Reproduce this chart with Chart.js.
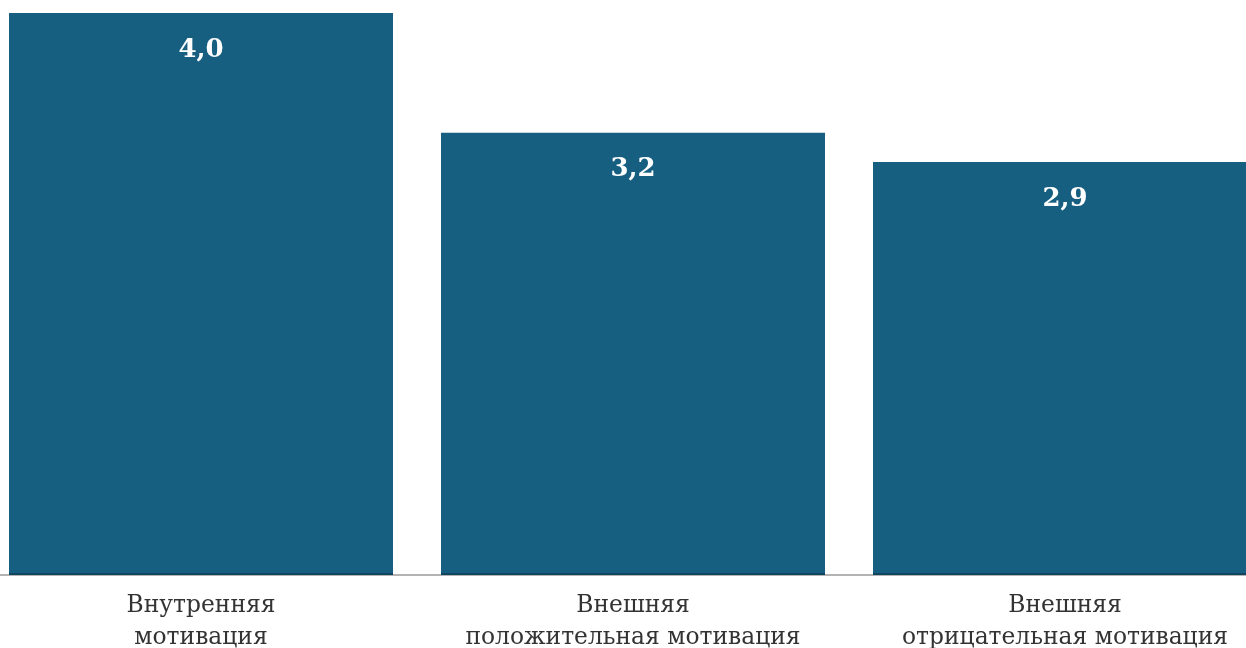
<!DOCTYPE html>
<html>
<head>
<meta charset="utf-8">
<script src="https://cdn.jsdelivr.net/npm/chart.js@4/dist/chart.umd.min.js"></script>
<style>
  body { margin: 0; overflow: hidden; background: #fff; }
  #wrap { position: absolute; left: -15px; top: 0; width: 1296px; height: 648px; }
</style>
</head>
<body>
<div id="wrap"><canvas id="myChart" width="1296" height="648"></canvas></div>
<script>
// Данные диаграммы
const categories = [
    ["Внутренняя", "мотивация"],
    ["Внешняя", "положительная мотивация"],
    ["Внешняя", "отрицательная мотивация"]
];
const values = [4.0, 3.15, 2.94];
const valueLabels = ["4,0", "3,2", "2,9"];

const barColor = "#175f81";
const serif = "'DejaVu Serif', 'Liberation Serif', serif";

// Подписи значений внутри столбцов
const valueLabelPlugin = {
    id: "valueLabels",
    afterDatasetsDraw(chart) {
        const ctx = chart.ctx;
        const meta = chart.getDatasetMeta(0);
        ctx.save();
        ctx.fillStyle = "#ffffff";
        ctx.font = "bold 26px " + serif;
        ctx.textAlign = "center";
        ctx.textBaseline = "middle";
        meta.data.forEach((bar, i) => {
            ctx.fillText(valueLabels[i], bar.x, bar.y + 37);
        });
        ctx.restore();
    }
};

new Chart(document.getElementById("myChart").getContext("2d"), {
    type: "bar",
    data: {
        labels: categories,
        datasets: [{
            data: values,
            backgroundColor: barColor,
            borderColor: "#0f4560",
            borderWidth: { top: 0, left: 0, right: 0, bottom: 2 },
            borderSkipped: false,
            barPercentage: 0.889,
            categoryPercentage: 1.0
        }]
    },
    options: {
        responsive: false,
        animation: false,
        layout: { padding: { top: 13, left: 0, right: 0, bottom: 0 } },
        plugins: {
            legend: { display: false },
            tooltip: { enabled: false }
        },
        scales: {
            y: {
                display: false,
                min: 0,
                max: 4
            },
            x: {
                grid: { display: false, drawTicks: false },
                border: { display: true, color: "#b3b3b3", width: 2 },
                ticks: {
                    color: "#333333",
                    padding: 15,
                    maxRotation: 0,
                    font: { family: serif, size: 23.4, lineHeight: 1.36 }
                },
                afterFit(scale) { scale.height = 73; }
            }
        }
    },
    plugins: [valueLabelPlugin]
});
</script>
</body>
</html>
